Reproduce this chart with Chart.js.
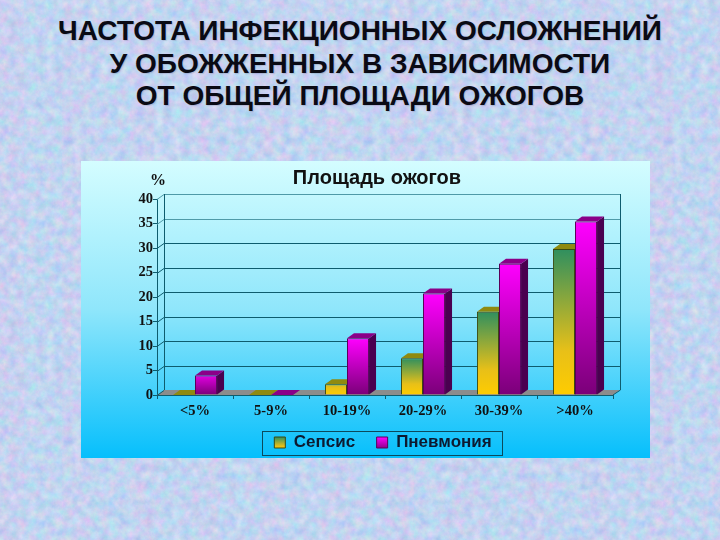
<!DOCTYPE html>
<html lang="ru">
<head>
<meta charset="utf-8">
<title>Частота инфекционных осложнений</title>
<script src="https://cdn.jsdelivr.net/npm/chart.js@4"></script>
<style>
html, body { margin: 0; width: 720px; height: 540px; overflow: hidden; }
body {
  position: relative;
  background-color: #c4d6f2;
  background-image:
    url("data:image/svg+xml,%3Csvg xmlns='http://www.w3.org/2000/svg' width='300' height='300'%3E%3Cfilter id='n' color-interpolation-filters='sRGB' x='0' y='0' width='100%25' height='100%25'%3E%3CfeTurbulence type='fractalNoise' baseFrequency='0.11' numOctaves='5' seed='7' stitchTiles='stitch'/%3E%3CfeColorMatrix values='0.4 0 0 0 0.56  0 0.25 0 0 0.7  0 0 0.12 0 0.88  0 0 0 0 0.75'/%3E%3C/filter%3E%3Crect width='300' height='300' filter='url(%23n)'/%3E%3C/svg%3E"),
    repeating-linear-gradient(90deg, rgba(226,196,236,.5) 0 24px, rgba(176,226,246,.5) 24px 62px, rgba(220,200,236,.4) 62px 90px, rgba(176,226,246,.5) 90px 130px);
}
h1 {
  position: absolute; left: 0; top: 15px; width: 720px; margin: 0;
  font: bold 28px/32.5px "Liberation Sans", Arial, sans-serif;
  color: #0a0a14; text-align: center;
  text-shadow: 1px 1px 1px rgba(90,100,130,.25);
}
#box {
  position: absolute; left: 81px; top: 161px; width: 569px; height: 297px;
  background: linear-gradient(180deg, #d4fdff 0%, #8fe6fb 50%, #06bffc 100%);
}
</style>
</head>
<body>
<h1>ЧАСТОТА ИНФЕКЦИОННЫХ ОСЛОЖНЕНИЙ<br>У ОБОЖЖЕННЫХ В ЗАВИСИМОСТИ<br>ОТ ОБЩЕЙ ПЛОЩАДИ ОЖОГОВ</h1>
<div id="box"><canvas id="chart" width="569" height="297"></canvas></div>
<script>
const categories = ["<5%", "5-9%", "10-19%", "20-29%", "30-39%", ">40%"];
const sepsis = [0, 0, 2.2, 7.5, 17, 29.8];
const pneumonia = [4, 0, 11.6, 20.7, 26.8, 35.4];
const yMax = 40;
const yStep = 5;

// depth of the fake 3d
const dx = 7, dy = -5;
const lineCol = "#0e5c6e";

const barGrad = (ctx, stops) => {
  const c = ctx.chart;
  if (ctx.parsed === undefined || !c.scales.y) return stops[0][1];
  const bot = c.scales.y.getPixelForValue(0);
  // short bars only show the lower part of the ramp
  const top = Math.min(c.scales.y.getPixelForValue(ctx.parsed.y), bot - 25);
  const g = c.ctx.createLinearGradient(0, top, 0, bot);
  stops.forEach(s => g.addColorStop(s[0], s[1]));
  return g;
};
const sepsisStops = [[0, "#2f8f5f"], [0.7, "#e8c018"], [1, "#ffcc00"]];
const pneuStops = [[0, "#ff00ff"], [1, "#7a0078"]];

const face = (c, pts, fill) => {
  c.fillStyle = fill;
  c.beginPath();
  pts.forEach((p, i) => i ? c.lineTo(p[0], p[1]) : c.moveTo(p[0], p[1]));
  c.closePath();
  c.fill();
};

const walls = {
  id: "walls",
  afterLayout(chart) {
    // title and legend are not centred on the canvas in the original
    const t = chart.titleBlock, lg = chart.legend;
    const ts = 296 - (t.left + t.right) / 2;
    t.left += ts; t.right += ts;
    const ls = 302 - (lg.left + lg.right) / 2;
    lg.left += ls; lg.right += ls;
    lg.top = 261;
  },
  beforeDatasetsDraw(chart) {
    const c = chart.ctx, a = chart.chartArea, y = chart.scales.y;
    c.save();
    // floor
    face(c, [[a.left, a.bottom], [a.left + dx, a.bottom + dy], [a.right + dx, a.bottom + dy], [a.right, a.bottom]], "#8c8c8c");
    // grid on the back wall + diagonals on the side wall
    c.lineWidth = 1;
    y.ticks.forEach(t => {
      const py = Math.round(y.getPixelForValue(t.value)) + 0.5;
      c.strokeStyle = t.value >= 35 ? "#4f9aa8" : lineCol;
      c.beginPath();
      c.moveTo(a.left, py);
      c.lineTo(a.left + dx, py + dy);
      if (t.value > 0) c.lineTo(a.right + dx, py + dy);
      c.stroke();
    });
    c.strokeStyle = lineCol;
    c.beginPath();
    c.moveTo(a.left + dx + 0.5, a.top + dy);
    c.lineTo(a.left + dx + 0.5, a.bottom + dy);
    c.moveTo(a.right + dx + 0.5, a.top + dy);
    c.lineTo(a.right + dx + 0.5, a.bottom + dy);
    c.lineTo(a.right, a.bottom);
    c.stroke();
    // side and top faces of the bars
    const cols = [["#8f8a10", "#4f6a20"], ["#8a0088", "#4a0050"]];
    chart.data.datasets.forEach((ds, i) => {
      chart.getDatasetMeta(i).data.forEach(b => {
        const l = b.x - b.width / 2, r = b.x + b.width / 2;
        face(c, [[r, b.y], [r + dx, b.y + dy], [r + dx, b.base + dy], [r, b.base]], cols[i][1]);
        face(c, [[l, b.y], [l + dx, b.y + dy], [r + dx, b.y + dy], [r, b.y]], cols[i][0]);
      });
    });
    c.restore();
  },
  afterDraw(chart) {
    const c = chart.ctx;
    c.save();
    // legend frame
    c.strokeStyle = "#0b4a5c";
    c.lineWidth = 1;
    c.strokeRect(181.5, 270.5, 240, 24);
    // axis unit
    c.fillStyle = "#111";
    c.font = 'bold 16px "Liberation Serif", serif';
    c.textAlign = "center";
    c.textBaseline = "middle";
    c.fillText("%", 77, 20);
    c.restore();
  }
};

new Chart(document.getElementById("chart"), {
  type: "bar",
  data: {
    labels: categories,
    datasets: [
      { label: "Сепсис", data: sepsis, borderColor: "#3c4a10", borderWidth: 1,
        backgroundColor: ctx => barGrad(ctx, sepsisStops) },
      { label: "Пневмония", data: pneumonia, borderColor: "#5a0058", borderWidth: 1,
        backgroundColor: ctx => barGrad(ctx, pneuStops) }
    ]
  },
  plugins: [walls],
  options: {
    responsive: false,
    animation: false,
    layout: { padding: { left: 6, right: 37, top: 0, bottom: 0 } },
    datasets: { bar: { categoryPercentage: 0.58, barPercentage: 1 } },
    plugins: {
      title: {
        display: true,
        text: "Площадь ожогов",
        color: "#111",
        font: { family: '"Liberation Sans", Arial, sans-serif', size: 20, weight: "bold" },
        padding: { top: 5, bottom: 9 }
      },
      legend: {
        position: "bottom",
        labels: {
          color: "#0d1a30",
          font: { family: '"Liberation Sans", Arial, sans-serif', size: 17, weight: "bold" },
          boxWidth: 11,
          boxHeight: 11,
          padding: 12,
          generateLabels(chart) {
            const c = chart.ctx;
            const mk = stops => {
              const g = c.createLinearGradient(0, 276, 0, 289);
              stops.forEach(s => g.addColorStop(s[0], s[1]));
              return g;
            };
            // trailing spaces widen the gap between the two entries
            return [
              { text: "Сепсис  ", fillStyle: mk(sepsisStops), strokeStyle: "#3c4a10", lineWidth: 1, datasetIndex: 0, fontColor: "#0d1a30" },
              { text: "Пневмония", fillStyle: mk(pneuStops), strokeStyle: "#5a0058", lineWidth: 1, datasetIndex: 1, fontColor: "#0d1a30" }
            ];
          }
        }
      },
      tooltip: { enabled: false }
    },
    scales: {
      x: {
        grid: { drawOnChartArea: false, color: lineCol, tickLength: 4 },
        border: { color: lineCol },
        ticks: {
          color: "#111", padding: 4, maxRotation: 0,
          font: { family: '"Liberation Serif", serif', size: 14.5, weight: "bold" }
        },
        afterFit(s) { s.height = 24; }
      },
      y: {
        min: 0,
        max: yMax,
        grid: { drawOnChartArea: false, color: lineCol, tickLength: 4 },
        border: { color: lineCol },
        ticks: {
          stepSize: yStep, color: "#111", padding: 0,
          font: { family: '"Liberation Serif", serif', size: 14.5, weight: "bold" }
        },
        afterFit(s) { s.width = 70; }
      }
    }
  }
});
</script>
</body>
</html>
